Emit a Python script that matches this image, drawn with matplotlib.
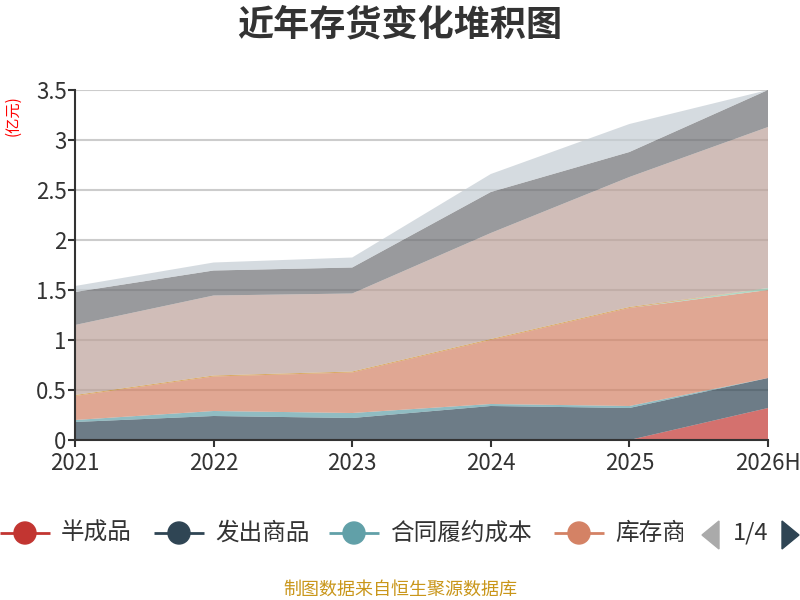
import matplotlib.pyplot as plt
from matplotlib.patches import Polygon, Rectangle, Circle

plt.rcParams['font.family'] = ['Noto Sans CJK SC', 'DejaVu Sans']

# data (亿元), bottom to top of the stack
years = ['2021', '2022', '2023', '2024', '2025', '2026H']
banchengpin = [0, 0, 0, 0, 0, 0.32]
fachu = [0.18, 0.24, 0.22, 0.34, 0.32, 0.30]
hetong = [0.02, 0.05, 0.05, 0.02, 0.02, 0.0]
kucun = [0.24, 0.345, 0.405, 0.64, 0.98, 0.88]
weituo = [0, 0, 0, 0, 0, 0.02]
baozhuang = [0, 0, 0, 0, 0, 0]
zaitu = [0.01, 0.01, 0.01, 0.01, 0.01, 0]
yuancailiao = [0.70, 0.80, 0.78, 1.06, 1.30, 1.61]
zaichanpin = [0.33, 0.25, 0.26, 0.41, 0.25, 0.37]
dizhi = [0, 0, 0, 0, 0, 0]
zhouzhuan = [0.06, 0.08, 0.10, 0.18, 0.28, 0.0]

names = ['半成品', '发出商品', '合同履约成本', '库存商品', '委托加工物资', '包装物',
         '在途物资', '原材料', '在产品', '低值易耗品', '周转材料']
series = [banchengpin, fachu, hetong, kucun, weituo, baozhuang,
          zaitu, yuancailiao, zaichanpin, dizhi, zhouzhuan]
colors = ['#c23531', '#2f4554', '#61a0a8', '#d48265', '#91c7ae', '#749f83',
          '#ca8622', '#bda29a', '#6e7074', '#546570', '#c4ccd3']

fig = plt.figure(figsize=(8, 6), dpi=100)
ax = fig.add_axes([75 / 800, 160 / 600, 693 / 800, 350 / 600])

x = list(range(len(years)))
ax.stackplot(x, *series, colors=colors, alpha=0.7, linewidth=0, labels=names)

ax.set_xlim(0, len(years) - 1)
ax.set_ylim(0, 3.5)
ax.set_yticks([0, 0.5, 1, 1.5, 2, 2.5, 3, 3.5])
ax.set_yticklabels(['0', '0.5', '1', '1.5', '2', '2.5', '3', '3.5'])
ax.set_xticks(x)
ax.set_xticklabels(years)
ax.set_axisbelow(True)
ax.grid(axis='y', color='#cccccc', linewidth=1.5)
for s in ['top', 'right']:
    ax.spines[s].set_visible(False)
for s in ['left', 'bottom']:
    ax.spines[s].set_color('#333333')
    ax.spines[s].set_linewidth(1.5)
ax.tick_params(colors='#333333', labelsize=16, length=5, width=1.5)
ax.tick_params(axis='y', pad=1)
ax.tick_params(axis='x', pad=4)

fig.text(400 / 800, 1 - 25 / 600, '近年存货变化堆积图', ha='center', va='center',
         fontsize=26, fontweight='bold', color='#333333')
fig.text(13 / 800, 1 - 116 / 600, '(亿元)', rotation=90, ha='center', va='center',
         fontsize=11, color='red')
fig.text(400 / 800, 1 - 590 / 600, '制图数据来自恒生聚源数据库', ha='center', va='center',
         fontsize=13, color='#c9961a')

# legend drawn in pixel coordinates (page 1 of 4)
lg = fig.add_axes([0, 0, 1, 1], zorder=5)
lg.set_xlim(0, 800)
lg.set_ylim(600, 0)
lg.axis('off')
lg.patch.set_alpha(0)
ly = 533
item_x = [0, 154, 329, 554]
for i in range(4):
    x0 = item_x[i]
    lg.plot([x0, x0 + 50], [ly, ly], color=colors[i], lw=2, solid_capstyle='butt')
    lg.add_patch(Circle((x0 + 25, ly), 11, color=colors[i]))
    t = lg.text(x0 + 61, ly, names[i], ha='left', va='center', fontsize=17, color='#333333')
    if i == 3:
        clip = Rectangle((0, 500), 683, 80, transform=lg.transData)
        t.set_clip_on(True)
        t.set_clip_path(clip)
lg.add_patch(Polygon([[719, 521], [719, 549], [702, 535]], closed=True, color='#aaaaaa'))
lg.text(751, ly, '1/4', ha='center', va='center', fontsize=17, color='#333333')
lg.add_patch(Polygon([[782, 521], [782, 549], [799, 535]], closed=True, color='#2f4554'))

fig.savefig('out.png', dpi=100)
